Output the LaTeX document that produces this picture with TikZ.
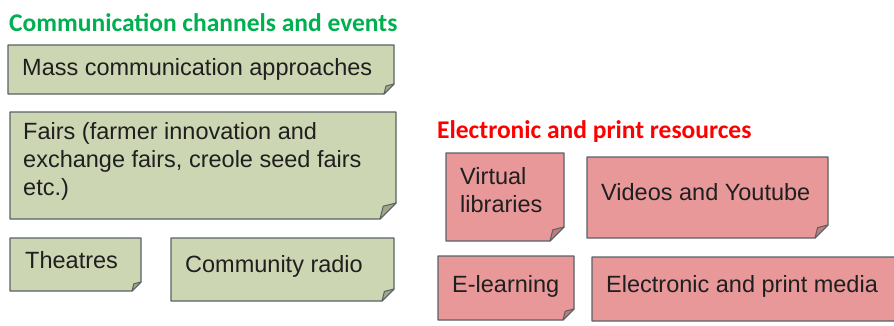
\documentclass[tikz,border=0pt]{standalone}
\usepackage{fontspec}
\setmainfont{Liberation Sans}
\newfontfamily\headfont{Carlito}
\definecolor{notegreen}{RGB}{205,214,178}
\definecolor{foldgreen}{RGB}{160,168,136}
\definecolor{notered}{RGB}{232,152,152}
\definecolor{foldred}{RGB}{196,122,122}
\definecolor{noteedge}{RGB}{88,98,102}
\definecolor{headgreen}{RGB}{0,176,80}
\definecolor{headred}{RGB}{255,0,0}
\tikzset{
  greennote/.style={draw=noteedge, line width=1.2pt, line join=round, fill=notegreen},
  greenfold/.style={draw=noteedge, line width=1pt, line join=round, fill=foldgreen},
  rednote/.style={draw=noteedge, line width=1.2pt, line join=round, fill=notered},
  redfold/.style={draw=noteedge, line width=1pt, line join=round, fill=foldred},
  notetext/.style={anchor=base west, inner sep=0pt, align=left, text=black!88,
    font=\fontsize{23.5}{28}\selectfont},
  heading/.style={anchor=base west, inner sep=0pt, font=\headfont\bfseries\fontsize{25.5}{30}\selectfont}
}
% paper note with a folded corner: colour, x1, y1, x2, y2, fold
\newcommand{\stickynote}[6]{%
  \draw[#1note] (#2,#3) -- (#4,#3) -- (#4,#5-#6) -- (#4-#6,#5) -- (#2,#5) -- cycle;
  \draw[#1fold] (#4,#5-#6) -- (#4-#6,#5) -- (#4-0.8*#6,#5-0.8*#6) -- cycle;
}
\begin{document}
\begin{tikzpicture}[x=1pt, y=-1pt]
        \useasboundingbox (0,0) rectangle (894,325);
        % communication channels and events
        \node[heading, text=headgreen] (HL) at (9, 31) {Communication channels and events};
        \stickynote{green}{8}{45}{394}{94}{10}
        \stickynote{green}{10}{112}{396}{219}{16}
        \stickynote{green}{10}{238}{141}{291}{9}
        \stickynote{green}{171}{238}{394}{301}{12}
        \node[notetext] (mass) at (22, 75) {Mass communication approaches};
        \node[notetext] (fairs) at (23, 195) {Fairs (farmer innovation and\\exchange fairs, creole seed fairs\\etc.)};
        \node[notetext] (theatres) at (25, 268) {Theatres};
        \node[notetext] (radio) at (185, 272) {Community radio};
        % electronic and print resources
        \node[heading, text=headred] (HR) at (437, 138) {Electronic and print resources};
        \stickynote{red}{446}{153}{564}{241}{14}
        \stickynote{red}{587}{157}{828}{238}{13}
        \stickynote{red}{438}{256}{574}{320}{11}
        \stickynote{red}{592}{257}{910}{321}{12}
        \node[notetext] (library) at (460, 212) {Virtual\\libraries};
        \node[notetext] (videos) at (601, 200) {Videos and Youtube};
        \node[notetext] (elearn) at (452, 292) {E-learning};
        \node[notetext] (media) at (606, 292) {Electronic and print media};
\end{tikzpicture}
\end{document}
